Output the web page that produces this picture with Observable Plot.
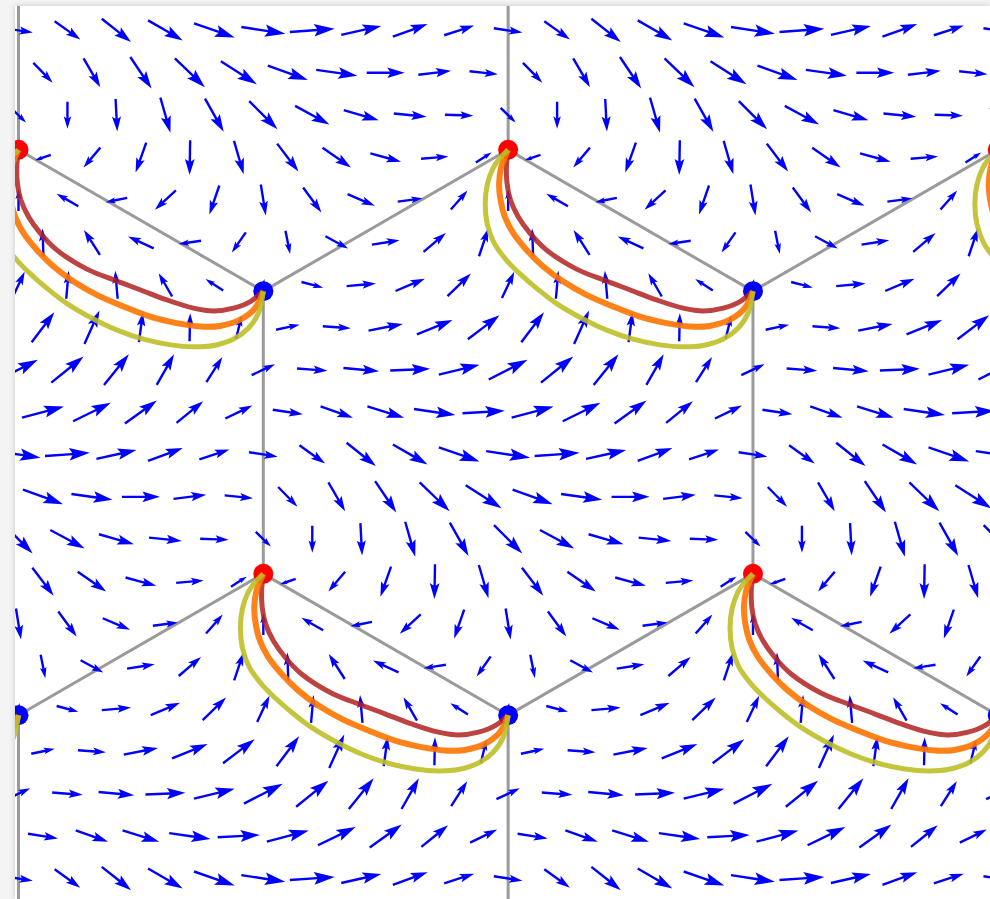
<!DOCTYPE html>
<html>
<head>
<meta charset="utf-8">
<script src="https://cdn.jsdelivr.net/npm/d3@7"></script>
<script src="https://cdn.jsdelivr.net/npm/@observablehq/plot@0.6"></script>
<style>
  html, body { margin: 0; padding: 0; background: #f4f4f4; overflow: hidden; }
  #card {
    position: absolute; left: 15px; top: 6px; width: 975px; height: 893px;
    background: #fff; box-shadow: 0 0 6px rgba(0, 0, 0, 0.18);
  }
  #card svg { display: block; background: #fff; }
</style>
</head>
<body>
<div id="card"></div>
<script>
// Flow field sampled on a 10 x 10 grid spanning one primitive cell of the
// honeycomb lattice (bond length = 1). Rows run top to bottom, odd rows are
// offset by half a column. Angles are in degrees, counter-clockwise from +x.
const fieldAngle = [
  [-8.7, -35.5, -38.5, -30, -19, -8.6, 4, 12.7, 20, 18],
  [-45.5, -60, -56, -44, -32.6, -20, -8, 0, 7, -6],
  [-44, -90, -87, -74, -60.7, -45, -28.5, -16, -5.8, -2],
  [-161, -130, -109.6, -91, -73.8, -52.7, -35, -15.2, 4.9, 32.5],
  [90, 150.3, -168.7, -137.4, -109, -80.8, -53.7, -23, 7.6, 48.7],
  [92, 122.6, 155, -171.5, -125, -78.7, -28.5, 8.9, 40.4, 71.4],
  [64.8, 85, 95, 120, 147, 80, -14.7, 5, 22.8, 44],
  [52.9, 65.8, 82.4, 88.7, 76.4, 12, -4, 11, 21.9, 37.2],
  [27, 39, 51, 60.5, 57.4, 25.2, -4.4, -5.3, 2.4, 13.8],
  [14.7, 26, 35.7, 39, 25.7, -8.8, -19.2, -17.2, -8.3, 3.2]
];

// Field magnitude at the same grid points.
const fieldMagnitude = [
  [2.9, 3.15, 3.75, 4.0, 4.3, 4.45, 4.5, 4.1, 3.7, 3.15],
  [2.76, 3.35, 3.8, 4.17, 4.27, 4.26, 4.15, 3.8, 3.3, 2.85],
  [2.1, 2.7, 3.24, 3.64, 3.82, 4.0, 3.9, 3.64, 3.3, 2.84],
  [1.66, 2.6, 3.18, 3.47, 3.47, 3.52, 3.47, 3.18, 2.75, 1.86],
  [2.2, 2.5, 2.2, 2.85, 3.07, 3.14, 3.1, 2.97, 2.52, 2.53],
  [2.8, 2.97, 2.83, 2.26, 2.44, 2.38, 2.58, 2.8, 2.93, 2.92],
  [2.9, 2.8, 2.8, 2.7, 2.1, 1.2, 2.24, 2.94, 3.18, 3.25],
  [3.76, 3.66, 3.0, 2.8, 2.4, 2.4, 2.8, 3.5, 3.84, 3.97],
  [4.35, 4.15, 3.95, 3.52, 2.97, 2.58, 3.07, 3.58, 4.0, 4.19],
  [4.34, 4.19, 3.94, 3.44, 3.0, 3.04, 3.43, 3.84, 4.18, 4.24]
];

// Strings joining each A site (red) to its B neighbour (blue), as offsets
// from the A site in lattice units.
const stringDarkRed = [
  [0, 0], [-0.006, -0.059], [-0.004, -0.118], [0.008, -0.177], [0.035, -0.236],
  [0.077, -0.295], [0.135, -0.354], [0.242, -0.422], [0.342, -0.462], [0.43, -0.495],
  [0.525, -0.531], [0.619, -0.56], [0.69, -0.57], [0.761, -0.56], [0.82, -0.537],
  [0.866, -0.5]
];
const stringOrange = [
  [0, 0], [-0.024, -0.059], [-0.032, -0.118], [-0.027, -0.177], [-0.012, -0.236],
  [0.018, -0.295], [0.065, -0.354], [0.124, -0.413], [0.195, -0.466], [0.277, -0.513],
  [0.371, -0.554], [0.466, -0.59], [0.56, -0.613], [0.643, -0.625], [0.713, -0.623],
  [0.784, -0.601], [0.837, -0.56], [0.866, -0.5]
];
const stringOlive = [
  [0, 0], [-0.028, -0.028], [-0.053, -0.064], [-0.074, -0.124], [-0.081, -0.191],
  [-0.074, -0.262], [-0.05, -0.329], [-0.007, -0.389], [0.042, -0.439], [0.103, -0.492],
  [0.173, -0.545], [0.255, -0.593], [0.347, -0.637], [0.442, -0.67], [0.538, -0.69],
  [0.619, -0.697], [0.69, -0.692], [0.761, -0.669], [0.814, -0.63], [0.849, -0.577],
  [0.866, -0.5]
];

// Honeycomb geometry (bond length 1, vertical bonds).
const SQ3 = Math.sqrt(3);
const latticeA1 = [SQ3, 0];
const latticeA2 = [SQ3 / 2, -1.5];
const siteB = [SQ3 / 2, -0.5];
const bondOffsets = [[SQ3 / 2, -0.5], [-SQ3 / 2, -0.5], [0, 1]];

// Visible window in lattice units.
const X = [-0.0106, 3.4383];
const Y = [-2.6519, 0.5069];
const rowTop = 0.4224;       // first sampled row of the cell
const colStep = SQ3 / 10;
const rowStep = 0.15;

const inside = (x, y, m) => x > X[0] - m && x < X[1] + m && y > Y[0] - m && y < Y[1] + m;

// Lattice translations covering the window.
const cells = [];
for (let i = -3; i <= 4; ++i) for (let j = -2; j <= 3; ++j) {
  cells.push([i * latticeA1[0] + j * latticeA2[0], i * latticeA1[1] + j * latticeA2[1]]);
}

const arrows = [];
for (const [ox, oy] of cells) {
  fieldAngle.forEach((row, r) => row.forEach((angle, c) => {
    const x = ox + c * colStep + (r % 2) * colStep / 2;
    const y = oy + rowTop - r * rowStep;
    if (inside(x, y, 0.25)) arrows.push({x, y, angle, magnitude: fieldMagnitude[r][c]});
  }));
}

const sitesA = cells.filter(([x, y]) => inside(x, y, 0.1)).map(([x, y]) => ({x, y}));
const sitesB = cells.map(([x, y]) => [x + siteB[0], y + siteB[1]])
  .filter(([x, y]) => inside(x, y, 0.1)).map(([x, y]) => ({x, y}));

const bonds = [];
for (const [x, y] of cells) {
  if (!inside(x, y, 1.2)) continue;
  for (const [dx, dy] of bondOffsets) bonds.push({x1: x, y1: y, x2: x + dx, y2: y + dy});
}

function tileString(points) {
  const out = [];
  cells.forEach(([ox, oy], k) => {
    if (!inside(ox, oy, 1)) return;
    for (const [dx, dy] of points) out.push({id: k, x: ox + dx, y: oy + dy});
  });
  return out;
}

// Filled quiver-style arrow, drawn pointing up from (0,0) to (0,-l).
const arrowShape = {
  draw(context, l) {
    const head = 0.46 * l, half = 0.14 * l, shaft = 1.2, neck = l - 0.85 * head;
    context.moveTo(-shaft, 0);
    context.lineTo(-shaft, -neck);
    context.lineTo(-half, -(l - head));
    context.lineTo(0, -l);
    context.lineTo(half, -(l - head));
    context.lineTo(shaft, -neck);
    context.lineTo(shaft, 0);
    context.closePath();
  }
};

const stringStyle = {x: "x", y: "y", z: "id", curve: "catmull-rom", clip: true,
  strokeLinecap: "butt", strokeLinejoin: "round"};

const chart = Plot.plot({
  width: 975,
  height: 893,
  margin: 0,
  x: {domain: X, axis: null},
  y: {domain: Y, axis: null},
  length: {type: "linear", domain: [0, 1], range: [0, 10]},
  marks: [
    Plot.link(bonds, {x1: "x1", y1: "y1", x2: "x2", y2: "y2",
      stroke: "#9a9a9a", strokeWidth: 3, clip: true}),
    Plot.dot(sitesA, {x: "x", y: "y", r: 10, fill: "#ff0000", stroke: "none", clip: true}),
    Plot.dot(sitesB, {x: "x", y: "y", r: 10, fill: "#0000ff", stroke: "none", clip: true}),
    Plot.vector(arrows, {
      x: "x", y: "y",
      rotate: d => 90 - d.angle,
      length: "magnitude",
      anchor: "middle",
      shape: arrowShape,
      fill: "#0000ff",
      stroke: "none",
      clip: true
    }),
    Plot.line(tileString(stringDarkRed), {...stringStyle, stroke: "#b22222", strokeWidth: 5, strokeOpacity: 0.85}),
    Plot.line(tileString(stringOrange), {...stringStyle, stroke: "#ff7400", strokeWidth: 6, strokeOpacity: 0.9}),
    Plot.line(tileString(stringOlive), {...stringStyle, stroke: "#bcbd22", strokeWidth: 5, strokeOpacity: 0.88})
  ]
});

document.getElementById("card").appendChild(chart);
</script>
</body>
</html>
